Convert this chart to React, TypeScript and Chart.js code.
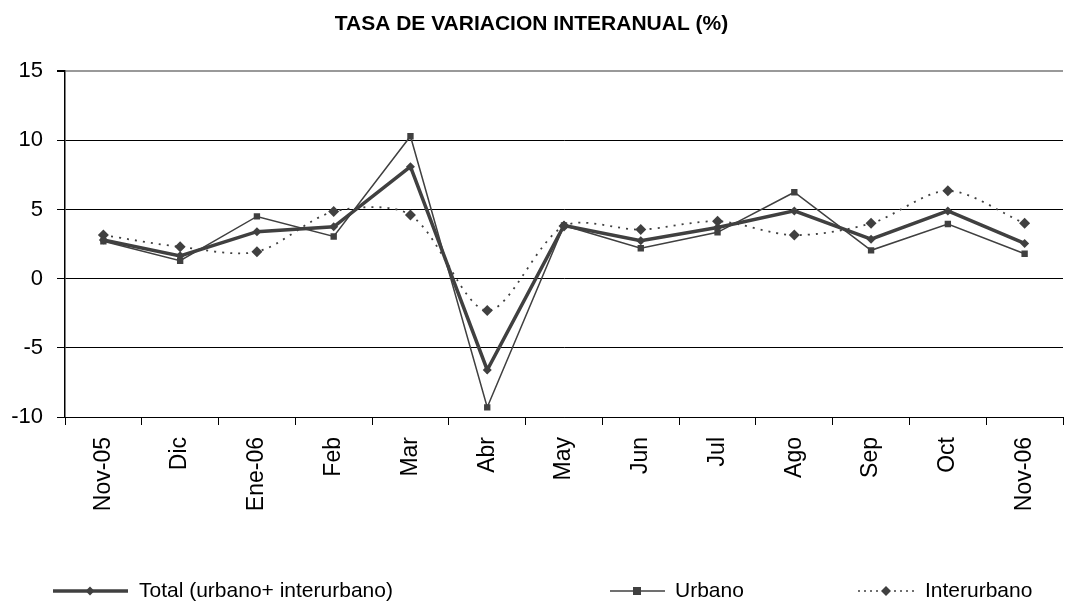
import React, { useEffect, useRef } from "react";
import { Chart, registerables } from "chart.js";

Chart.register(...registerables);

const categories = ["Nov-05", "Dic", "Ene-06", "Feb", "Mar", "Abr", "May", "Jun", "Jul", "Ago", "Sep", "Oct", "Nov-06"];
const totalValues = [2.8, 1.65, 3.4, 3.75, 8.1, -6.6, 3.85, 2.75, 3.7, 4.9, 2.85, 4.9, 2.55];
const urbanoValues = [2.7, 1.3, 4.5, 3.05, 10.3, -9.3, 3.85, 2.2, 3.35, 6.25, 2.05, 3.95, 1.8];
const interurbanoValues = [3.15, 2.3, 1.95, 4.85, 4.6, -2.3, 3.8, 3.55, 4.15, 3.15, 4.0, 6.35, 4.0];
const yTicks = { min: -10, max: 15, step: 5 };
const titleText = "TASA DE VARIACION INTERANUAL (%)";
const legendLabels = ["Total (urbano+ interurbano)", "Urbano", "Interurbano"];

const LINE = "#404040";
const FONT = "'Liberation Sans', Arial, sans-serif";

function diamond(ctx: any, x: number, y: number, r: number) {
  ctx.beginPath();
  ctx.moveTo(x, y - r);
  ctx.lineTo(x + r, y);
  ctx.lineTo(x, y + r);
  ctx.lineTo(x - r, y);
  ctx.closePath();
  ctx.fill();
}

const legendPlugin = {
  id: "customLegend",
  afterDraw(chart: any) {
    const ctx = chart.ctx;
    const y = 591;
    ctx.save();
    ctx.strokeStyle = LINE;
    ctx.fillStyle = LINE;
    ctx.lineWidth = 3.5;
    ctx.setLineDash([]);
    ctx.beginPath(); ctx.moveTo(53, y); ctx.lineTo(128, y); ctx.stroke();
    diamond(ctx, 90, y, 4.5);
    ctx.lineWidth = 1.5;
    ctx.beginPath(); ctx.moveTo(610, y); ctx.lineTo(665, y); ctx.stroke();
    ctx.fillRect(633, y - 4, 8, 8);
    ctx.lineWidth = 1.5;
    ctx.setLineDash([2, 4]);
    ctx.beginPath(); ctx.moveTo(858, y); ctx.lineTo(915, y); ctx.stroke();
    ctx.setLineDash([]);
    diamond(ctx, 886, y, 5);
    ctx.fillStyle = "#000";
    ctx.font = "21px " + FONT;
    ctx.textBaseline = "middle";
    ctx.textAlign = "left";
    ctx.fillText(legendLabels[0], 139, y);
    ctx.fillText(legendLabels[1], 675, y);
    ctx.fillText(legendLabels[2], 925, y);
    ctx.restore();
  },
};

export default function App() {
  const ref = useRef<HTMLCanvasElement>(null);
  useEffect(() => {
    const chart = new Chart(ref.current!, {
      type: "line",
      data: {
        labels: categories,
        datasets: [
          {
            label: legendLabels[0],
            data: totalValues,
            borderColor: LINE,
            backgroundColor: LINE,
            borderWidth: 3.5,
            pointStyle: "rectRot",
            pointRadius: 4.5,
            pointBorderWidth: 0,
            order: 1,
          },
          {
            label: legendLabels[1],
            data: urbanoValues,
            borderColor: LINE,
            backgroundColor: LINE,
            borderWidth: 1.5,
            pointStyle: "rect",
            pointRadius: 4.5,
            pointBorderWidth: 0,
            order: 2,
          },
          {
            label: legendLabels[2],
            data: interurbanoValues,
            borderColor: LINE,
            backgroundColor: LINE,
            borderWidth: 1.8,
            borderDash: [2, 6],
            tension: 0.3,
            pointStyle: "rectRot",
            pointRadius: 5.5,
            pointBorderWidth: 0,
            order: 3,
          },
        ],
      },
      options: {
        responsive: false,
        animation: false,
        layout: { padding: { left: 0, right: 6, top: 0, bottom: 0 } },
        plugins: {
          legend: { display: false },
          tooltip: { enabled: false },
          title: {
            display: true,
            text: titleText,
            color: "#000",
            font: { family: FONT, size: 21, weight: "bold" },
            padding: { top: 12, bottom: 34 },
          },
        },
        scales: {
          x: {
            offset: true,
            grid: {
              offset: true,
              drawOnChartArea: false,
              drawTicks: true,
              tickLength: 8,
              color: "#000",
            },
            border: { color: "#000", width: 1 },
            ticks: {
              minRotation: 90,
              maxRotation: 90,
              color: "#000",
              padding: 12,
              font: { family: FONT, size: 23 },
            },
            afterFit(scale: any) {
              scale.height = 184;
            },
          },
          y: {
            min: yTicks.min,
            max: yTicks.max,
            ticks: {
              stepSize: yTicks.step,
              color: "#000",
              padding: 14,
              font: { family: FONT, size: 22 },
            },
            grid: {
              color: (c: any) => (c.tick && c.tick.value === yTicks.max ? "#999" : "#000"),
              lineWidth: (c: any) => (c.tick && c.tick.value === yTicks.max ? 2 : 1),
              tickLength: 8,
              tickColor: "#000",
            },
            border: { color: "#000", width: 1.5 },
            afterFit(scale: any) {
              scale.width = 65;
            },
          },
        },
      },
      plugins: [legendPlugin],
    });
    return () => chart.destroy();
  }, []);
  return (
    <div style={{ position: "fixed", left: 0, top: 0, width: 1069, height: 601, background: "#fff" }}>
      <canvas ref={ref} width={1069} height={601} />
    </div>
  );
}
